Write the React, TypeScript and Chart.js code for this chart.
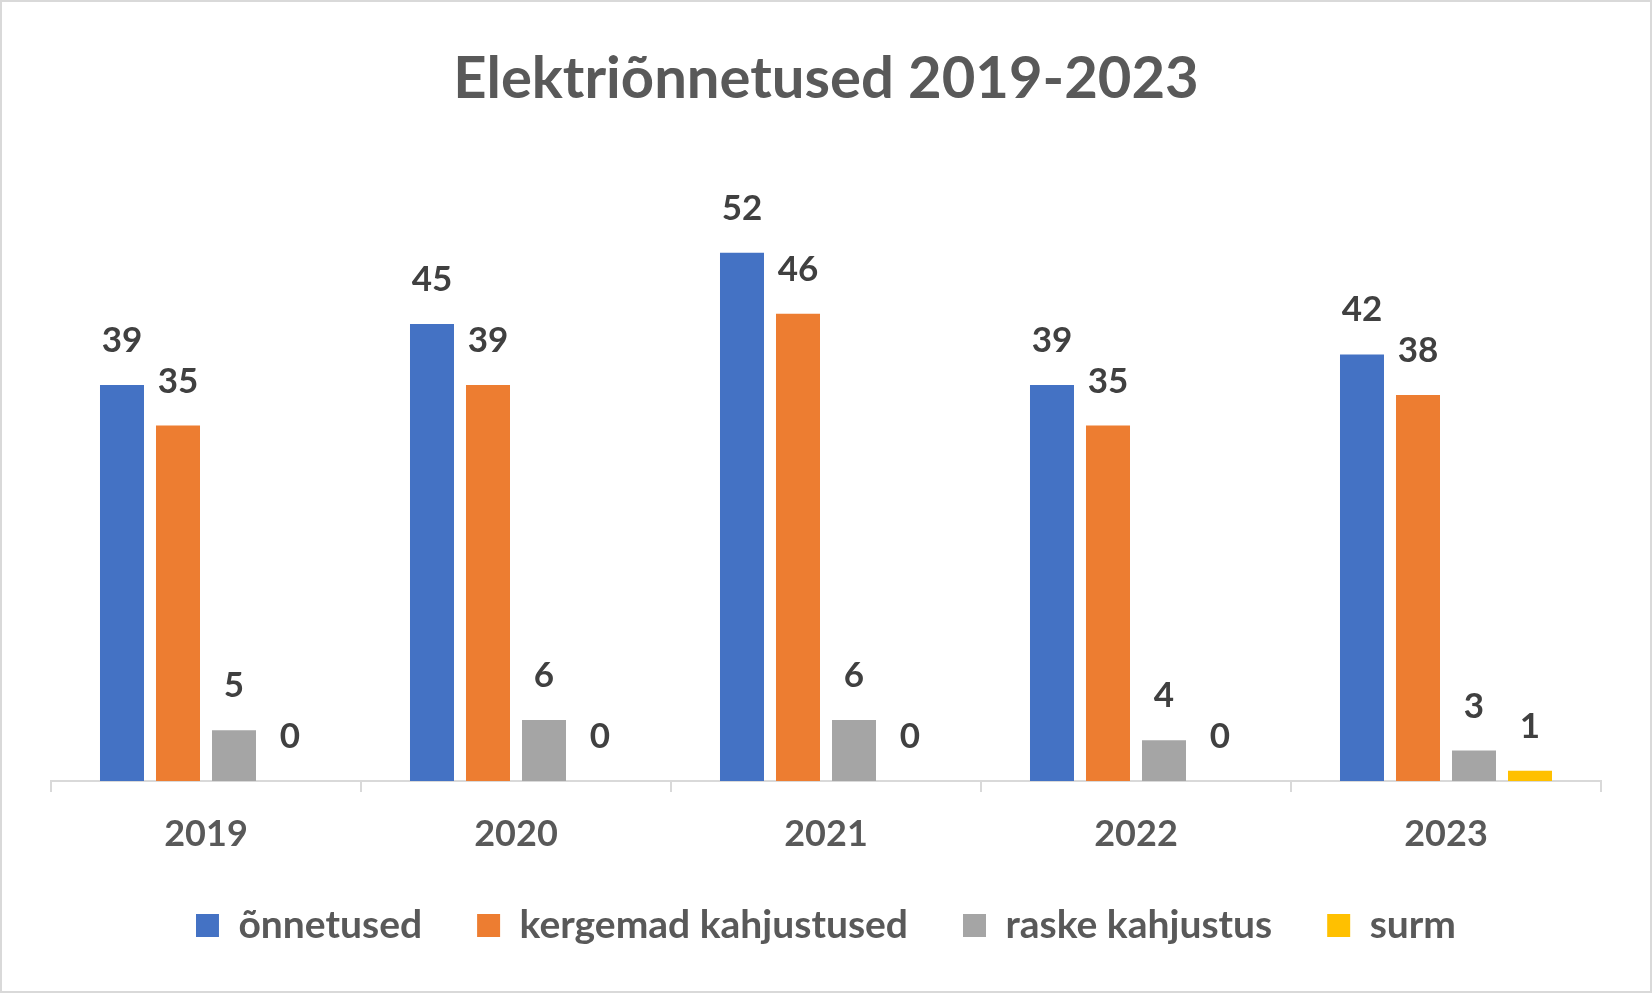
import { useEffect, useRef } from "react"
import { Chart, registerables } from "chart.js"

Chart.register(...registerables)

document.body.style.margin = "0"

const years = ["2019", "2020", "2021", "2022", "2023"]
const onnetused = [39, 45, 52, 39, 42]
const kergemad = [35, 39, 46, 35, 38]
const raske = [5, 6, 6, 4, 3]
const surm = [0, 0, 0, 0, 1]
const seriesNames = ["õnnetused", "kergemad kahjustused", "raske kahjustus", "surm"]

const colors = ["#4472C4", "#ED7D31", "#A5A5A5", "#FFC000"]
const family = "Lato, 'Open Sans', sans-serif"

// Excel-style value labels above each bar
const valueLabels = {
  id: "valueLabels",
  afterDatasetsDraw(chart: Chart) {
    const { ctx } = chart
    ctx.save()
    ctx.font = `bold 35px ${family}`
    ctx.fillStyle = "#404040"
    ctx.textAlign = "center"
    ctx.textBaseline = "alphabetic"
    chart.data.datasets.forEach((ds, i) => {
      chart.getDatasetMeta(i).data.forEach((bar: any, j) => {
        ctx.fillText(String(ds.data[j]), bar.x, bar.y - 33)
      })
    })
    ctx.restore()
  },
}

export default function App() {
  const chartRef = useRef<HTMLCanvasElement>(null)
  const chartInstance = useRef<Chart | null>(null)

  useEffect(() => {
    if (!chartRef.current) return
    if (chartInstance.current) chartInstance.current.destroy()

    const series = [onnetused, kergemad, raske, surm]

    chartInstance.current = new Chart(chartRef.current, {
      type: "bar",
      data: {
        labels: years,
        datasets: series.map((values, i) => ({
          label: seriesNames[i],
          data: values,
          backgroundColor: colors[i],
          borderWidth: 0,
          categoryPercentage: 0.7226,
          barPercentage: 0.7857,
        })),
      },
      options: {
        animation: false,
        responsive: false,
        layout: { padding: { left: 49, right: 49, top: 0, bottom: 36 } },
        plugins: {
          title: {
            display: true,
            text: "Elektriõnnetused 2019-2023",
            color: "#595959",
            font: { family, size: 58, weight: "bold" },
            padding: { top: 42, bottom: 58 },
          },
          legend: {
            position: "bottom",
            labels: {
              boxWidth: 23,
              boxHeight: 23,
              padding: 55,
              color: "#595959",
              font: { family, size: 39, weight: "bold" },
            },
          },
          tooltip: { enabled: false },
        },
        scales: {
          x: {
            offset: true,
            grid: {
              display: true,
              offset: true,
              drawOnChartArea: false,
              drawTicks: true,
              tickLength: 11,
              color: "#d9d9d9",
              lineWidth: 2,
            },
            border: { display: true, color: "#d9d9d9", width: 2 },
            ticks: {
              color: "#595959",
              font: { family, size: 36, weight: "bold" },
              padding: 21,
            },
            // tick padding counts twice in the axis height; trim the extra
            afterFit: (scale: any) => {
              scale.height = 70
            },
          },
          y: { display: false, min: 0, max: 60 },
        },
      },
      plugins: [valueLabels],
    })

    return () => {
      if (chartInstance.current) {
        chartInstance.current.destroy()
        chartInstance.current = null
      }
    }
  }, [])

  return (
    <div style={{ width: 1648, height: 989, border: "2px solid #d9d9d9", background: "#fff" }}>
      <canvas ref={chartRef} width={1648} height={989} style={{ display: "block" }} />
    </div>
  )
}
